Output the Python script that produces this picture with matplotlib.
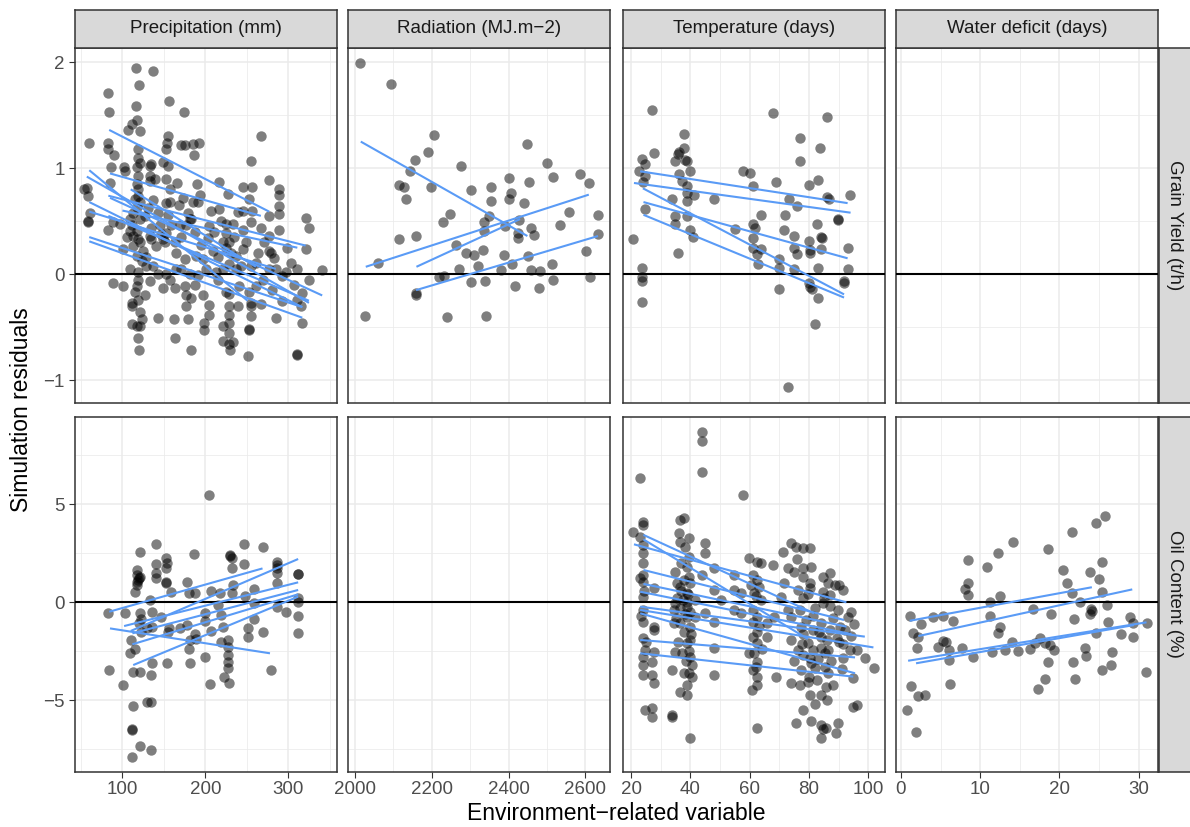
import matplotlib
matplotlib.use('Agg')
import matplotlib.pyplot as plt

plt.rcParams['font.family'] = ['Liberation Sans', 'DejaVu Sans']

# ---------------- labels ----------------
col_labels = ['Precipitation (mm)', 'Radiation (MJ.m\u22122)', 'Temperature (days)', 'Water deficit (days)']
row_labels = ['Grain Yield (t/h)', 'Oil Content (%)']
x_title = 'Environment\u2212related variable'
y_title = 'Simulation residuals'

x_breaks = [[100, 200, 300], [2000, 2200, 2400, 2600], [20, 40, 60, 80, 100], [0, 10, 20, 30]]
x_minor = [[50, 150, 250, 350], [2100, 2300, 2500], [30, 50, 70, 90], [5, 15, 25]]
y_breaks = [[-1, 0, 1, 2], [-5, 0, 5]]
y_minor = [[-0.5, 0.5, 1.5], [-7.5, -2.5, 2.5, 7.5]]
x_limits = [(42.4, 358.5), (1982.5, 2665), (17.2, 105.5), (-0.63, 32.45)]
y_limits = [(-1.211, 2.135), (-8.64, 9.47)]

# ---------------- data: (x, residual) ----------------
gy_precip_pts = [
    (116,1.94),(137,1.92),(120,1.78),(82,1.71),(156,1.63),(84,1.53),(174,1.53),(116,1.59),(112,1.42),(118,1.45),
    (107,1.36),(121,1.35),(60,1.24),(82,1.24),(267,1.30),(155,1.30),(154,1.24),(153,1.18),(171,1.22),(175,1.22),
    (185,1.23),(192,1.24),(186,1.12),(119,1.18),(83,1.18),(119,1.10),(121,1.05),(133,1.02),(135,1.04),(117,1.01),
    (86,1.01),(102,1.01),(103,0.97),(90,1.12),(255,1.07),(149,1.06),(155,1.02),(133,0.93),(133,0.88),(139,0.90),
    (119,0.93),(277,0.89),(217,0.87),(166,0.86),(190,0.85),(85,0.86),(57,0.81),(59,0.74),(245,0.82),(256,0.82),
    (289,0.80),(289,0.75),(227,0.76),(253,0.71),(193,0.75),(191,0.68),(185,0.68),(173,0.72),(157,0.68),(153,0.67),
    (168,0.65),(289,0.64),(289,0.57),(245,0.60),(239,0.59),(207,0.60),(217,0.61),(256,0.60),(277,0.55),(179,0.58),
    (181,0.52),(117,0.63),(113,0.58),(109,0.52),(121,0.52),(61,0.58),(59,0.49),(83,0.42),(89,0.49),(97,0.47),
    (109,0.41),(117,0.41),(133,0.36),(135,0.44),(145,0.46),(153,0.39),(159,0.46),(169,0.46),(177,0.46),(183,0.52),
    (225,0.47),(233,0.47),(219,0.50),(255,0.49),(267,0.44),(245,0.42),(225,0.39),(203,0.34),(249,0.30),(277,0.36),
    (289,0.42),(277,0.22),(279,0.20),(321,0.53),(325,0.44),(321,0.24),(303,0.11),(311,0.05),(341,0.04),(325,-0.05),
    (317,-0.18),(311,-0.24),(315,-0.30),(317,-0.46),(285,-0.41),(267,-0.28),(255,-0.30),(255,-0.39),(253,-0.52),(251,-0.77),
    (253,-0.53),(225,-0.17),(229,-0.19),(229,-0.30),(229,-0.38),(229,-0.46),(221,-0.49),(229,-0.55),(221,-0.63),(229,-0.66),
    (230,-0.71),(233,-0.64),(205,-0.29),(205,-0.38),(199,-0.46),(199,-0.53),(183,-0.71),(163,-0.60),(162,-0.42),(143,-0.41),
    (179,-0.42),(177,-0.30),(177,-0.20),(183,-0.22),(197,-0.20),(175,-0.11),(181,0.00),(191,-0.01),(201,0.05),(213,0.02),
    (221,0.05),(237,0.05),(119,-0.05),(117,-0.11),(115,-0.17),(119,-0.24),(111,-0.27),(111,-0.30),(121,-0.36),(117,-0.49),
    (121,-0.49),(111,-0.47),(119,-0.60),(120,-0.71),(101,-0.11),(89,-0.08),(133,-0.06),(149,-0.13),(163,-0.13),(157,-0.05),
    (143,0.00),(153,0.00),(109,0.05),(119,0.02),(129,0.08),(137,0.08),(165,0.05),(117,0.17),(129,0.16),(101,0.24),
    (113,0.27),(141,0.27),(135,0.33),(149,0.33),(165,0.20),(175,0.14),(189,0.17),(197,0.14),(215,0.16),(225,0.25),
    (237,0.17),(245,0.24),(255,0.08),(261,0.11),(277,0.05),(285,0.05),(297,0.02),(293,-0.02),(269,-0.05),(261,-0.11),
    (241,-0.11),(253,-0.17),(255,-0.27),(54,0.80),(59,0.50),(310,-0.75),(311,-0.76),
    (119,0.80),(119,0.74),(115,0.71),(113,0.36),(119,0.33),(121,0.30),(125,0.22),(123,0.12),
    (153,0.90),(157,0.80),(155,0.56),(151,0.30),(205,0.45),(211,0.40),(229,0.30),(231,0.20),(229,0.10),
    (117,0.85),(121,0.68),(111,0.46),(127,0.55),(131,0.62),(137,0.70),(143,0.58),(147,0.38),(163,0.30),(171,0.35),
    (187,0.40),(195,0.28),(209,0.22),(221,0.30),(235,0.35),(243,0.08),(263,0.20),(271,0.30),(283,0.15),(299,0.25),
    (307,-0.10),(293,-0.25),(281,-0.15),(239,-0.30),(215,-0.05),(187,-0.10),(171,0.05),(127,-0.20),(123,-0.42),(105,0.35),
]

gy_rad_pts = [
    (2013,1.99),(2093,1.79),(2206,1.31),(2156,1.08),(2191,1.15),(2143,0.97),(2114,0.84),(2128,0.82),(2133,0.71),(2198,0.82),
    (2277,1.02),(2449,1.23),(2499,1.05),(2517,0.92),(2586,0.94),(2610,0.86),(2633,0.56),(2633,0.38),(2603,0.22),(2611,-0.03),
    (2557,0.59),(2533,0.46),(2512,0.10),(2515,-0.05),(2479,-0.13),(2481,0.03),(2458,0.04),(2451,0.17),(2467,0.37),(2458,0.44),
    (2440,0.67),(2453,0.87),(2401,0.91),(2406,0.77),(2401,0.71),(2428,0.51),(2425,0.39),(2425,0.34),(2390,0.45),(2388,0.18),
    (2410,0.10),(2380,0.04),(2416,-0.11),(2355,0.82),(2355,0.69),(2302,0.79),(2349,0.55),(2336,0.49),(2336,0.41),(2333,0.23),
    (2321,0.08),(2310,0.18),(2289,0.20),(2271,0.05),(2262,0.28),(2247,0.57),(2228,0.49),(2232,-0.02),(2218,-0.03),(2303,-0.07),
    (2338,-0.06),(2158,0.36),(2114,0.33),(2061,0.11),(2158,-0.20),(2158,-0.18),(2026,-0.39),(2239,-0.40),(2341,-0.39),
]

gy_temp_pts = [
    (27.0,1.55),(67.9,1.52),(86.0,1.48),(38.0,1.32),(38.0,1.19),(36.1,1.15),(35.7,1.13),(34.9,1.07),(38.9,1.07),(38.3,1.08),
    (27.9,1.14),(23.8,1.09),(24.8,1.04),(22.8,0.97),(24.8,0.93),(24.0,0.87),(40.0,0.97),(36.1,0.94),(37.2,0.88),(38.9,0.83),
    (38.9,0.77),(38.9,0.69),(41.2,0.75),(33.8,0.71),(47.9,0.71),(24.8,0.61),(34.9,0.55),(34.9,0.47),(38.9,0.55),(40.0,0.42),
    (40.9,0.35),(36.0,0.20),(20.8,0.33),(23.8,0.06),(23.8,-0.03),(23.8,-0.06),(23.8,-0.26),(57.9,0.97),(60.2,0.95),(61.0,0.83),
    (68.9,0.87),(76.8,1.28),(83.8,1.19),(76.8,1.07),(80.0,0.84),(83.0,0.89),(86.1,0.73),(86.6,0.71),(93.8,0.75),(89.8,0.52),
    (89.8,0.51),(82.8,0.47),(73.2,0.71),(75.9,0.64),(71.9,0.56),(71.7,0.42),(74.9,0.36),(83.9,0.35),(84.5,0.34),(80.0,0.31),
    (80.3,0.23),(80.3,0.20),(74.9,0.25),(75.9,0.19),(83.9,0.24),(93.0,0.25),(93.0,0.05),(83.0,0.06),(74.9,0.05),(70.0,0.14),
    (70.0,0.06),(70.0,-0.14),(80.0,-0.08),(80.3,-0.12),(81.0,-0.14),(83.0,-0.22),(81.9,-0.47),(91.8,-0.06),(91.8,-0.08),(72.8,-1.06),
    (63.8,0.56),(61.1,0.47),(61.9,0.44),(61.0,0.34),(61.0,0.25),(63.8,0.24),(62.6,0.19),(62.8,0.10),(55.0,0.43),
]

oc_precip_pts = [
    (204,5.48),(140,2.96),(121,2.59),(247,2.98),(269,2.82),(186,2.47),(153,2.28),(154,1.99),(153,1.73),(140,1.94),
    (140,1.48),(140,1.26),(118,1.65),(118,1.39),(120,1.22),(118,1.05),(118,0.88),(115,0.54),(153,1.00),(158,0.54),
    (178,1.05),(180,0.46),(187,0.46),(207,0.58),(218,0.46),(230,2.41),(232,2.24),(232,1.73),(233,0.88),(232,0.49),
    (247,1.96),(248,0.34),(259,0.68),(286,2.07),(286,1.73),(286,1.48),(286,0.97),(312,1.43),(312,0.20),(312,0.00),
    (312,-0.68),(312,-1.58),(297,-0.48),(286,-0.22),(259,-0.05),(259,-0.85),(269,-1.50),(251,-1.33),(251,-1.75),(279,-3.45),
    (227,-1.92),(227,-2.30),(227,-2.69),(227,-3.06),(227,-3.33),(223,-3.79),(229,-4.13),(219,-2.01),(221,-1.28),(219,-0.65),
    (215,-0.14),(207,-1.45),(200,-0.94),(200,-0.56),(200,-2.81),(206,-4.17),(189,-1.89),(187,-1.62),(178,-1.16),(180,-2.40),
    (182,-3.11),(170,-1.33),(156,-1.33),(154,-3.11),(155,-1.50),(146,-0.73),(136,-0.51),(136,-1.24),(136,-3.11),(135,-3.71),
    (134,-5.10),(130,-5.07),(135,-7.53),(121,-7.33),(112,-7.87),(111,-6.48),(113,-5.29),(101,-4.22),(84,-3.45),(113,-3.57),
    (121,-3.57),(115,-2.40),(109,-2.57),(110,-1.92),(122,-1.50),(120,-1.07),(121,-0.56),(103,-0.53),(83,-0.53),(133,0.12),
    (122,-0.87),(130,-1.33),(111,-6.50),(119,1.15),(121,1.30),(230,2.35),(286,1.90),(312,1.45),(153,1.05),(181,-1.90),
]

oc_temp_pts = [
    (44.0,8.67),(44.0,8.23),(44.0,6.67),(23.1,6.33),(57.9,5.48),(20.8,3.61),(24.0,4.12),(24.0,3.95),(23.1,3.35),(24.0,2.93),
    (24.0,2.50),(24.0,1.99),(24.0,1.39),(23.1,1.22),(24.0,1.05),(24.0,0.29),(24.0,-0.39),(24.0,-0.99),(24.8,-2.43),(24.0,-2.77),
    (24.0,-3.71),(24.8,-5.49),(27.0,-5.41),(27.0,-5.83),(27.9,-1.24),(27.9,-1.41),(27.9,-2.52),(27.0,-3.03),(27.0,-3.71),(27.9,-4.13),
    (27.9,0.71),(36.6,4.20),(37.8,4.29),(36.1,3.52),(36.6,3.10),(39.5,3.27),(38.3,2.84),(39.5,2.33),(34.9,1.56),(37.8,1.14),
    (39.5,1.31),(36.6,0.80),(38.9,0.46),(34.9,-0.05),(38.9,-0.22),(38.9,-0.73),(36.6,-1.07),(40.0,-1.24),(38.9,-2.09),(40.0,-1.92),
    (34.9,-2.52),(40.0,-2.77),(33.8,-3.45),(37.8,-3.62),(40.6,-3.79),(38.9,-4.22),(36.6,-4.56),(38.9,-4.73),(33.8,-5.75),(33.8,-5.83),
    (39.8,-6.94),(45.1,3.01),(45.1,2.50),(44.0,1.39),(47.9,1.73),(47.9,0.63),(45.1,-0.56),(47.9,-0.99),(47.9,-2.35),(47.9,-3.71),
    (59.8,2.24),(62.6,2.07),(63.8,1.99),(67.7,1.90),(61.0,1.39),(62.3,1.14),(54.7,1.39),(54.7,0.63),(57.0,0.46),(61.5,0.46),
    (63.8,0.12),(61.0,-0.39),(62.6,-0.73),(62.6,-1.50),(61.0,-1.75),(62.3,-2.09),(59.8,-2.60),(62.3,-3.03),(61.0,-3.45),(62.3,-3.79),
    (62.6,-4.22),(60.9,-4.47),(62.3,-6.43),(66.0,-1.75),(68.9,-3.79),(71.1,2.59),(74.0,3.01),(75.7,2.84),(77.9,2.76),(80.2,2.76),
    (72.8,1.73),(75.1,1.56),(77.9,1.73),(80.7,1.82),(77.9,1.31),(80.2,0.97),(80.2,0.71),(76.2,0.63),(71.7,0.97),(84.7,1.31),
    (86.4,0.97),(88.6,0.88),(91.5,0.63),(84.7,0.54),(86.9,0.37),(84.7,-0.05),(89.8,-0.39),(94.3,-0.48),(93.2,-0.73),(90.4,-1.24),
    (84.1,-1.07),(76.8,-0.39),(74.0,-0.73),(77.4,-1.24),(81.3,-1.41),(74.0,-1.92),(76.2,-2.43),(79.6,-2.09),(81.3,-2.43),(84.1,-2.35),
    (86.4,-2.43),(93.8,-2.43),(96.0,-2.43),(98.8,-2.86),(102.0,-3.33),(91.5,-2.86),(94.9,-3.88),(77.4,-3.45),(81.9,-3.37),(85.3,-3.28),
    (86.4,-3.62),(74.0,-4.13),(76.8,-4.22),(79.6,-4.05),(82.6,-3.96),(85.8,-4.30),(84.1,-4.73),(80.2,-4.73),(86.1,-4.98),(94.9,-5.32),
    (96.0,-5.24),(75.7,-6.17),(80.7,-6.05),(83.9,-6.26),(84.7,-6.48),(85.8,-6.43),(83.9,-6.94),(89.0,-6.65),(89.8,-6.14),(80.2,-2.86),
    (77.9,-2.69),(84.1,-1.75),(86.9,-1.41),(70.6,0.29),(72.8,-0.39),(68.3,-0.73),(66.0,-1.07),(57.0,-0.56),(54.7,-0.39),(50.2,0.12),
    (41.7,0.12),(41.7,-0.73),(34.4,-0.39),(34.4,-1.07),
    (35.5,0.20),(36.5,-0.30),(37.5,0.10),(39.0,0.00),(40.0,-0.50),(38.0,-1.50),(39.5,-2.50),(36.0,-2.00),(35.0,-0.80),(40.5,-3.20),
    (38.5,-3.00),(39.0,1.80),(37.0,2.00),(35.5,1.00),(24.0,-1.80),(23.5,-0.70),(24.5,0.60),(24.0,-3.20),(25.0,-2.00),(63.0,0.80),
    (61.0,-1.00),(64.0,-2.40),(62.0,-3.30),(60.5,0.90),(78.0,0.20),(82.0,-0.30),(88.0,-0.80),(86.0,-1.90),(78.0,-1.60),(83.0,-2.90),
    (90.0,-2.00),(92.0,-1.40),(87.0,-0.20),(75.0,-3.00),(80.0,-3.80),(88.0,-4.20),(91.0,-3.40),(82.0,-5.20),(79.0,-0.90),(85.0,0.20),
    (94.0,-1.70),(87.0,1.50),(90.0,0.90),(76.0,2.20),(78.0,-5.50),
    (39.2,0.40),(38.2,-0.60),(40.2,-1.60),(37.2,-2.60),(39.6,-3.60),(36.8,0.60),(39.8,1.00),(62.0,0.30),(61.6,-2.60),(63.2,-1.20),
    (79.5,0.40),(81.5,-0.70),(83.5,-1.50),(85.5,-2.60),(80.5,-3.10),(77.5,-2.10),(89.5,-1.80),(91.5,-2.10),(95.0,-1.10),(87.5,-3.00),
]

oc_wd_pts = [
    (25.7,4.40),(24.6,4.06),(21.6,3.61),(14.2,3.10),(18.6,2.70),(12.3,2.53),(8.4,2.16),(10.9,1.82),(25.4,2.04),(20.4,1.65),
    (23.9,1.53),(25.0,1.19),(20.9,0.97),(8.4,0.97),(8.1,0.66),(8.5,0.37),(12.5,0.34),(21.6,0.46),(25.4,0.54),(22.6,0.03),
    (26.0,-0.14),(11.2,0.00),(24.0,-0.36),(24.1,-0.44),(23.9,-0.61),(16.7,-0.36),(19.0,-0.61),(11.3,-0.68),(1.1,-0.68),(4.1,-0.73),
    (5.3,-0.68),(6.6,-0.95),(2.5,-1.12),(21.8,-0.85),(26.1,-1.02),(28.9,-0.73),(29.3,-1.07),(31.0,-1.07),(27.8,-1.62),(29.3,-1.79),
    (24.6,-1.55),(12.5,-1.24),(12.2,-1.58),(1.5,-1.55),(2.2,-1.75),(2.0,-2.35),(4.7,-2.30),(5.3,-1.97),(5.7,-2.01),(6.0,-2.43),
    (7.7,-2.35),(6.1,-2.94),(9.1,-2.77),(11.5,-2.55),(13.1,-2.43),(14.0,-2.01),(14.8,-2.48),(16.3,-2.40),(16.9,-2.09),(17.6,-1.84),
    (18.2,-2.09),(18.8,-2.18),(19.3,-2.43),(18.6,-3.03),(23.2,-2.35),(23.3,-2.74),(26.7,-2.55),(26.5,-3.20),(25.4,-3.45),(21.7,-3.03),
    (22.0,-3.93),(18.2,-3.93),(17.3,-4.44),(30.9,-3.55),(6.2,-4.18),(1.3,-4.27),(2.2,-4.76),(3.0,-4.73),(0.8,-5.49),(1.9,-6.60),
]

# ---------------- fitted lines: (x_start, x_end, y_start, y_end) ----------------
gy_precip_fit = [(84,277,1.36,0.59),(85,267,0.95,0.55),(60,251,0.98,-0.25),(57,325,0.92,-0.27),(83,321,0.74,0.27),
                 (100,311,0.60,0.25),(60,317,0.68,-0.31),(60,285,0.59,0.05),(60,317,0.35,-0.31),(60,317,0.31,-0.41),
                 (85,341,0.72,-0.20),(110,261,0.80,0.07),(83,325,0.55,-0.25)]
gy_rad_fit = [(2015,2449,1.25,0.36),(2028,2609,0.07,0.75),(2160,2430,0.07,0.52),(2159,2633,-0.15,0.36)]
gy_temp_fit = [(23.1,93.0,0.97,0.67),(21.0,94.0,0.86,0.58),(24.0,91.8,0.81,-0.19),(24.2,93.0,0.68,0.15),(24.2,91.8,0.56,-0.22)]
oc_precip_fit = [(84,269,-0.48,1.73),(110,312,-1.46,2.21),(102,312,-1.21,1.02),(112,312,-1.58,0.63),
                 (112,312,-2.14,0.41),(113,312,-3.20,0.29),(85,278,-1.33,-2.60)]
oc_temp_fit = [(24.2,81.7,3.44,-0.56),(21.0,92.6,2.96,0.00),(24.2,79.6,3.21,-1.87),(24.2,91.8,1.65,-0.90),
               (24.2,92.6,0.94,-1.24),(23.1,94.3,0.54,-1.62),(23.1,98.8,-0.22,-1.75),(23.1,101.7,-0.39,-2.30),
               (23.1,95.5,-0.56,-3.62),(23.1,95.5,-1.92,-2.81),(23.1,94.9,-2.60,-3.79)]
oc_wd_fit = [(1.1,24.1,-0.94,0.77),(2.2,29.2,-1.72,0.66),(0.9,31.0,-2.98,-1.02),(1.9,29.4,-3.11,-1.16)]

panels = {
    (0, 0): (gy_precip_pts, gy_precip_fit),
    (0, 1): (gy_rad_pts, gy_rad_fit),
    (0, 2): (gy_temp_pts, gy_temp_fit),
    (0, 3): ([], []),
    (1, 0): (oc_precip_pts, oc_precip_fit),
    (1, 1): ([], []),
    (1, 2): (oc_temp_pts, oc_temp_fit),
    (1, 3): (oc_wd_pts, oc_wd_fit),
}

# ---------------- layout (pixels) ----------------
W, H = 1190, 827
fig = plt.figure(figsize=(W / 100, H / 100), dpi=100)

def rect(l, t, w, h):
    return [l / W, 1 - (t + h) / H, w / W, h / H]

col_left = [74.7, 348.3, 622.7, 896.0]
panel_w = 262.0
row_top = [47.7, 416.7]
panel_h = 355.0

border = '#333333'
grid_c = '#EBEBEB'
fit_c = '#5A9BF6'
tick_fs = 13.5

for (r, c), (pts, fits) in panels.items():
    ax = fig.add_axes(rect(col_left[c], row_top[r], panel_w, panel_h))
    ax.set_xlim(*x_limits[c])
    ax.set_ylim(*y_limits[r])
    ax.set_xticks(x_breaks[c])
    ax.set_xticks(x_minor[c], minor=True)
    ax.set_yticks(y_breaks[r])
    ax.set_yticks(y_minor[r], minor=True)
    ax.grid(which='major', color=grid_c, lw=1.1)
    ax.grid(which='minor', color=grid_c, lw=0.55)
    ax.set_axisbelow(True)
    for s in ax.spines.values():
        s.set_color(border)
        s.set_linewidth(1.1)
    ax.tick_params(which='minor', length=0)
    ax.tick_params(which='major', length=4, width=0.8, color=border,
                   labelcolor='#4D4D4D', labelsize=tick_fs, pad=3)
    if r != 1:
        ax.tick_params(axis='x', which='both', bottom=False, labelbottom=False)
    if c != 0:
        ax.tick_params(axis='y', which='both', left=False, labelleft=False)

    if pts:
        xs = [p[0] for p in pts]
        ys = [p[1] for p in pts]
        ax.scatter(xs, ys, s=56, color='black', alpha=0.5, linewidths=0, zorder=2)
    ax.axhline(0, color='black', lw=1.5, zorder=3)
    for (x0, x1, y0, y1) in fits:
        ax.plot([x0, x1], [y0, y1], color=fit_c, lw=1.5, zorder=4, solid_capstyle='butt')

# top strips
for c, lab in enumerate(col_labels):
    sax = fig.add_axes(rect(col_left[c], 10.0, panel_w, row_top[0] - 10.0))
    sax.set_facecolor('#D9D9D9')
    sax.set_xticks([]); sax.set_yticks([])
    for s in sax.spines.values():
        s.set_color(border); s.set_linewidth(1.1)
    sax.text(0.5, 0.5, lab, ha='center', va='center', fontsize=13.5, color='#1A1A1A',
             transform=sax.transAxes)

# right strips (right edge runs off the image)
for r, lab in enumerate(row_labels):
    sax = fig.add_axes(rect(1158.5, row_top[r], 36.0, panel_h))
    sax.set_facecolor('#D9D9D9')
    sax.set_xticks([]); sax.set_yticks([])
    for s in sax.spines.values():
        s.set_color(border); s.set_linewidth(1.1)
    sax.text(16.0 / 36.0, 0.5, lab, ha='center', va='center', rotation=-90, fontsize=13.5,
             color='#1A1A1A', transform=sax.transAxes)

fig.text(616 / W, 1 - 814 / H, x_title, ha='center', va='center', fontsize=16.5, color='black')
fig.text(22 / W, 1 - 409.7 / H, y_title, ha='center', va='center', rotation=90, fontsize=16.5, color='black')

fig.savefig('out.png', dpi=100)
